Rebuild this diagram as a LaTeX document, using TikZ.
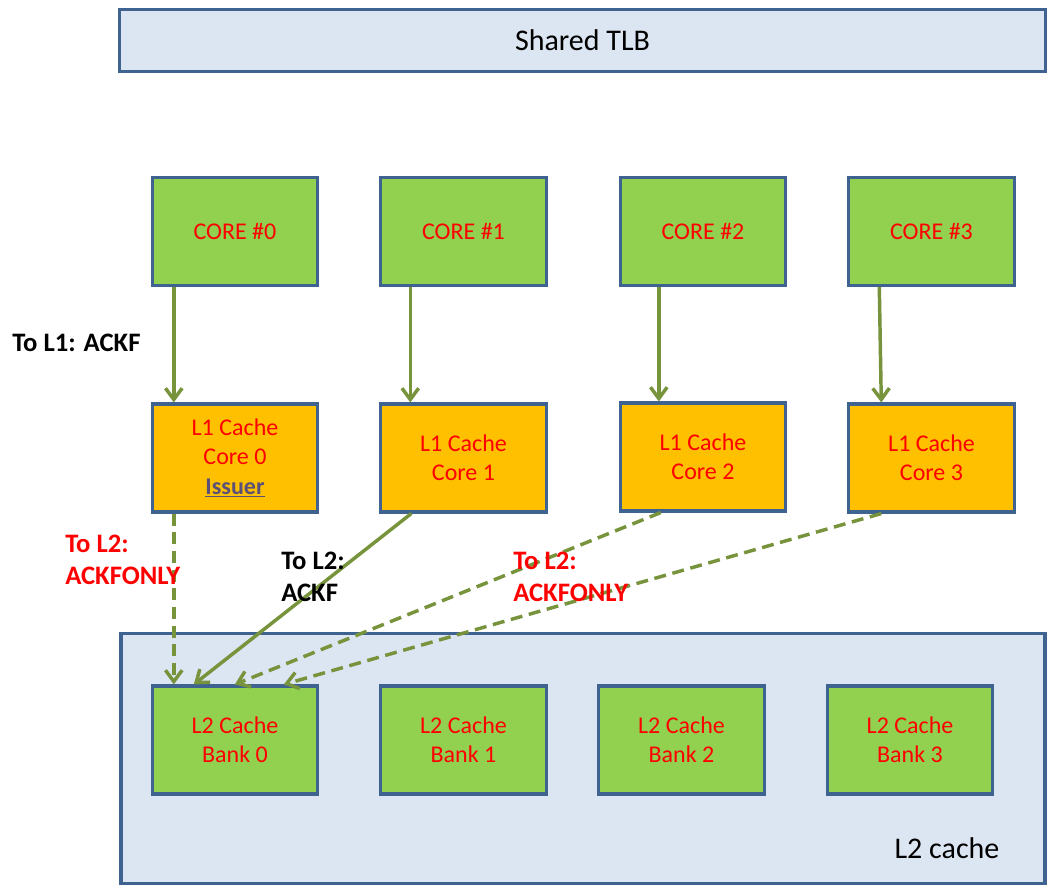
\documentclass[tikz,border=0pt]{standalone}
\usepackage{fontspec}
\setmainfont{Carlito}
\usetikzlibrary{arrows.meta,calc}
\definecolor{boxline}{HTML}{3F6390}
\definecolor{coregreen}{HTML}{92D050}
\definecolor{cacheorange}{HTML}{FFC000}
\definecolor{paleblue}{HTML}{DCE6F2}
\definecolor{flowgreen}{HTML}{77933C}
\definecolor{issuercol}{HTML}{5A5078}
\begin{document}
\begin{tikzpicture}[x=0.75pt,y=-0.75pt,
  unit/.style={draw=boxline,line width=2.3pt,minimum width=124pt,minimum height=81pt,
    inner sep=0pt,align=center,text=red,font=\fontsize{18}{22}\selectfont},
  core/.style={unit,fill=coregreen},
  lone/.style={unit,fill=cacheorange},
  bank/.style={unit,fill=coregreen},
  panel/.style={draw=boxline,line width=2.3pt,fill=paleblue,inner sep=0pt},
  flow/.style={draw=flowgreen,line width=2.6pt,-{Straight Barb[length=8.5pt,width=12.5pt]}},
  dashflow/.style={flow,dash pattern=on 9pt off 5pt},
  tag/.style={font=\fontsize{20}{24}\selectfont\bfseries,align=left,anchor=north west,inner sep=0pt}]
\useasboundingbox (0,0) rectangle (1054,888);

% top-level translation buffer
\node[panel,minimum width=694pt,minimum height=46pt,font=\fontsize{22.5}{27}\selectfont]
  (tlb) at (582.5,40.5) {Shared TLB};

% L2 cache enclosure
\node[panel,minimum width=693pt,minimum height=187pt] (l2) at (583,758.5) {};
\node[font=\fontsize{22.5}{27}\selectfont] (l2lbl) at (947,848) {L2 cache};

% cores
\node[core] (c0) at (235,231.5) {CORE \#0};
\node[core] (c1) at (463.5,231.5) {CORE \#1};
\node[core] (c2) at (703,231.5) {CORE \#2};
\node[core] (c3) at (931.5,231.5) {CORE \#3};

% private L1 caches
\node[lone] (l0) at (235,458) {L1 Cache\\Core 0\\{\color{issuercol}\bfseries\underline{Issuer}}};
\node[lone] (l1) at (463.5,458) {L1 Cache\\Core 1};
\node[lone] (lc2) at (703,457) {L1 Cache\\Core 2};
\node[lone] (lc3) at (931.5,458) {L1 Cache\\Core 3};

% L2 banks
\node[bank] (b0) at (235,740) {L2 Cache\\Bank 0};
\node[bank] (b1) at (463.5,740) {L2 Cache\\Bank 1};
\node[bank] (b2) at (681.5,740) {L2 Cache\\Bank 2};
\node[bank] (b3) at (910,740) {L2 Cache\\Bank 3};

% core -> L1
\draw[flow] ($(c0.south west)+(23,0)$) -- ($(l0.north west)+(23,0)$);
\draw[flow] ($(c1.south west)+(31,0)$) -- ($(l1.north west)+(31,0)$);
\draw[flow] ($(c2.south west)+(40,0)$) -- ($(lc2.north west)+(40,0)$);
\draw[flow] ($(c3.south west)+(32,0)$) -- ($(lc3.north west)+(34,0)$);

% L1 -> L2 bank 0
\draw[dashflow] ($(l0.south west)+(23,0)$) -- ($(b0.north west)+(23,0)$);
\draw[flow] ($(l1.south west)+(32,0)$) -- ($(b0.north west)+(43,0)$);
\draw[dashflow] ($(lc2.south west)+(42,0)$) -- ($(b0.north west)+(84,0)$);
\draw[dashflow] ($(lc3.south west)+(34,0)$) -- ($(b0.north west)+(133,0)$);

% message labels
\node[tag] (t1) at (12,334) {To L1: ACKF};
\node[tag,text=red] (t2) at (65,535) {To L2:\\ACKFONLY};
\node[tag] (t3) at (281,552) {To L2:\\ACKF};
\node[tag,text=red] (t4) at (513,552) {To L2:\\ACKFONLY};
\end{tikzpicture}
\end{document}
